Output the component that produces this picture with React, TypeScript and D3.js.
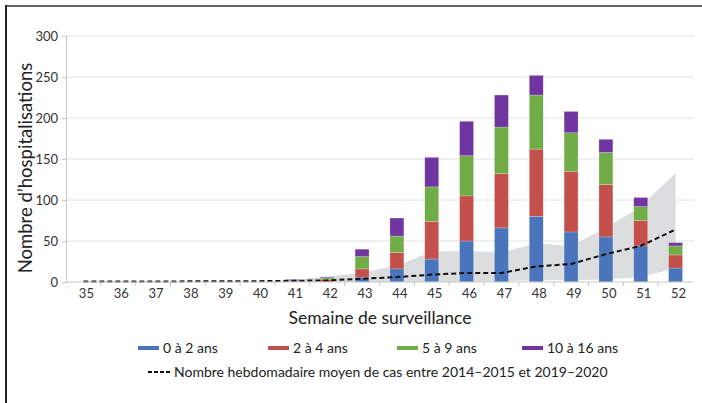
import React, { useRef, useEffect } from "react";
import * as d3 from "d3";

const weeks = ["35", "36", "37", "38", "39", "40", "41", "42", "43", "44", "45", "46", "47", "48", "49", "50", "51", "52"];
const age0to2 = [0, 0, 0, 0, 0, 0, 1, 0, 6, 16, 28, 50, 66, 80, 61, 55, 44, 17];
const age2to4 = [0, 0, 0, 0, 0, 0, 1, 3, 10, 20, 46, 55, 66, 82, 74, 64, 31, 16];
const age5to9 = [0, 0, 0, 0, 0, 0, 0, 2, 15, 20, 42, 49, 57, 66, 47, 39, 17, 11];
const age10to16 = [0, 0, 0, 0, 0, 0, 1, 1, 9, 22, 36, 42, 39, 24, 26, 16, 11, 4];
const meanCases = [0.5, 0.5, 0.5, 0.8, 1, 1, 1.5, 2, 4, 6, 9, 11, 11, 19, 22, 34, 44, 64];
const rangeLow = [0, 0, 0, 0, 0, 0, 0, 0, 0, 0, 0, 0, 1, 2, 2, 3, 6, 17];
const rangeHigh = [0, 0, 0, 0, 0, 0, 2, 7, 11, 20, 37, 38, 36, 47, 44, 66, 92, 133];
const yTicks = [0, 50, 100, 150, 200, 250, 300];

const seriesNames = ["0 à 2 ans", "2 à 4 ans", "5 à 9 ans", "10 à 16 ans"];
const seriesColors = ["#4a74bb", "#c4504c", "#71ad46", "#7035a0"];
const meanLabel = "Nombre hebdomadaire moyen de cas entre 2014–2015 et 2019–2020";

const FONT = "Lato, 'Open Sans', sans-serif";

const App = () => {
  const ref = useRef<SVGSVGElement>(null);

  useEffect(() => {
    const svg = d3.select(ref.current);
    svg.selectAll("*").remove();

    const left = 66, right = 693, top = 36, bottom = 282;

    const x = d3.scaleBand().domain(weeks).range([left, right]).paddingInner(0.6).paddingOuter(0.3);
    const xb = d3.scaleBand().domain(weeks).range([left, right]);
    const y = d3.scaleLinear().domain([0, 300]).range([bottom, top]);
    const cx = (w: string) => xb(w)! + xb.bandwidth() / 2;

    // frame
    svg.append("line").attr("x1", 5).attr("x2", 702).attr("y1", 6).attr("y2", 6)
      .attr("stroke", "#666").attr("stroke-width", 2);
    svg.append("line").attr("x1", 6).attr("x2", 6).attr("y1", 5).attr("y2", 403)
      .attr("stroke", "#222").attr("stroke-width", 2);

    // gridlines
    svg.append("g").selectAll("line").data(yTicks.slice(1)).join("line")
      .attr("x1", left).attr("x2", right + 1)
      .attr("y1", (d) => y(d)).attr("y2", (d) => y(d))
      .attr("stroke", "#e2e2e2").attr("stroke-width", 1);

    // y axis
    const yAxis = svg.append("g").attr("transform", `translate(${left},0)`)
      .call(d3.axisLeft(y).tickValues(yTicks).tickSize(4).tickPadding(4));
    yAxis.select(".domain").attr("stroke", "#c8c8c8");
    yAxis.selectAll(".tick line").attr("stroke", "#c8c8c8");
    yAxis.selectAll("text").attr("font-family", FONT).attr("font-size", 13).attr("fill", "#333");

    // range band
    const area = d3.area<number>()
      .x((_, i) => cx(weeks[i]))
      .y0((_, i) => y(rangeLow[i]))
      .y1((d) => y(d));
    svg.append("path").datum(rangeHigh).attr("d", area).attr("fill", "#dcdddf");

    // stacked bars
    const table = weeks.map((w, i) => ({
      week: w, a: age0to2[i], b: age2to4[i], c: age5to9[i], d: age10to16[i],
    }));
    const stack = d3.stack<any>().keys(["a", "b", "c", "d"])(table);
    svg.append("g").selectAll("g").data(stack).join("g")
      .attr("fill", (_, i) => seriesColors[i])
      .selectAll("rect").data((s) => s).join("rect")
      .attr("x", (d) => x(d.data.week)!)
      .attr("width", x.bandwidth())
      .attr("y", (d) => y(d[1]))
      .attr("height", (d) => y(d[0]) - y(d[1]))
      .attr("stroke", "#ffffff").attr("stroke-opacity", 0.35).attr("stroke-width", 0.6);

    // mean dashed line
    const line = d3.line<number>().x((_, i) => cx(weeks[i])).y((d) => y(d));
    svg.append("path").datum(meanCases).attr("d", line)
      .attr("fill", "none").attr("stroke", "#111").attr("stroke-width", 2)
      .attr("stroke-dasharray", "5,3");

    // x axis
    const xAxis = svg.append("g").attr("transform", `translate(0,${bottom})`);
    xAxis.append("line").attr("x1", left).attr("x2", right).attr("stroke", "#c8c8c8");
    xAxis.selectAll("line.tk").data(weeks.slice(1)).join("line").attr("class", "tk")
      .attr("x1", (d) => xb(d)!).attr("x2", (d) => xb(d)!)
      .attr("y1", 0).attr("y2", 4).attr("stroke", "#c8c8c8");
    xAxis.selectAll("text").data(weeks).join("text")
      .attr("x", (d) => cx(d) + 3).attr("y", 16)
      .attr("text-anchor", "middle").attr("font-family", FONT).attr("font-size", 13).attr("fill", "#333")
      .text((d) => d);

    // axis titles
    svg.append("text").attr("transform", `translate(32,168) rotate(-90)`)
      .attr("text-anchor", "middle").attr("font-family", FONT).attr("font-size", 18.5).attr("fill", "#222")
      .text("Nombre d’hospitalisations");
    svg.append("text").attr("x", 380).attr("y", 324)
      .attr("text-anchor", "middle").attr("font-family", FONT).attr("font-size", 17.5).attr("fill", "#222")
      .text("Semaine de surveillance");

    // legend
    const legendX = [138, 268, 397, 522];
    const lg = svg.append("g");
    seriesNames.forEach((name, i) => {
      lg.append("rect").attr("x", legendX[i]).attr("y", 346).attr("width", 21).attr("height", 4)
        .attr("fill", seriesColors[i]);
      lg.append("text").attr("x", legendX[i] + 25).attr("y", 352.5)
        .attr("font-family", FONT).attr("font-size", 14).attr("fill", "#222").text(name);
    });
    lg.append("line").attr("x1", 148).attr("x2", 170).attr("y1", 372).attr("y2", 372)
      .attr("stroke", "#111").attr("stroke-width", 2).attr("stroke-dasharray", "4,2");
    lg.append("text").attr("x", 174).attr("y", 376.5)
      .attr("font-family", FONT).attr("font-size", 14).attr("fill", "#222").text(meanLabel);
  }, []);

  return (
    <svg ref={ref} width={702} height={403}
      style={{ position: "absolute", left: 0, top: 0, background: "#fff" }} />
  );
};

export default App;
